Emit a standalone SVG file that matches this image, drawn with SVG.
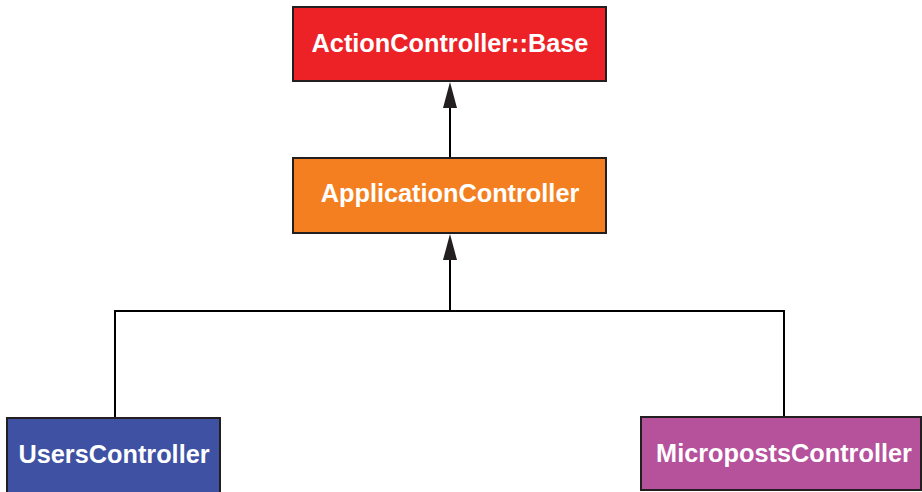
<svg xmlns="http://www.w3.org/2000/svg" width="922" height="492" viewBox="0 0 922 492">
<style>
.box{stroke:#231f20;stroke-width:2}
.lbl{font-family:"Liberation Sans",Arial,sans-serif;font-weight:bold;font-size:25.3px;fill:#fff;text-anchor:middle}
.con{fill:none;stroke:#000;stroke-width:2}
.head{fill:#231f20}
</style>
<rect width="922" height="492" fill="#fff"/>
<g id="connectors">
<path class="con" d="M450 158 V100"/>
<polygon class="head" points="450,82 443,108 457,108"/>
<path class="con" d="M115 418 V311 H784 V417 M450 311 V252"/>
<polygon class="head" points="450,234 443,260 457,260"/>
</g>
<g id="base">
<rect class="box" x="293" y="7" width="313" height="74" fill="#ec2227"/>
<text class="lbl" x="450" y="52">ActionController::Base</text>
</g>
<g id="application">
<rect class="box" x="293" y="158" width="313" height="75" fill="#f47f20"/>
<text class="lbl" x="450" y="202">ApplicationController</text>
</g>
<g id="users">
<rect class="box" x="7" y="418" width="213" height="90" fill="#3e51a3"/>
<text class="lbl" x="114" y="463">UsersController</text>
</g>
<g id="microposts">
<rect class="box" x="641" y="417" width="280" height="73" fill="#b6519c"/>
<text class="lbl" x="784" y="462">MicropostsController</text>
</g>
</svg>
